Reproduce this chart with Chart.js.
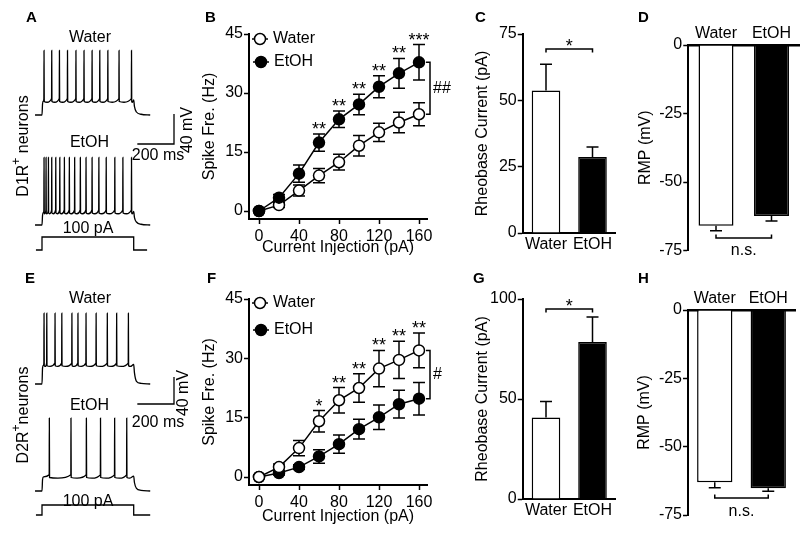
<!DOCTYPE html>
<html lang="en">
<head>
<meta charset="UTF-8">
<title>Firing of D1R+ and D2R+ neurons: Water vs EtOH</title>
<script src="https://cdn.jsdelivr.net/npm/chart.js"></script>
<style>
  body { margin: 0; background: #fff; }
  #fig { position: relative; width: 800px; height: 537px; overflow: hidden; }
  #fig canvas { position: absolute; left: 0; top: 0; }
</style>
</head>
<body>
<div id="fig">
  <canvas id="traceA" width="800" height="537"></canvas>
  <canvas id="chartB" width="800" height="537"></canvas>
  <canvas id="chartC" width="800" height="537"></canvas>
  <canvas id="chartD" width="800" height="537"></canvas>
  <canvas id="traceE" width="800" height="537"></canvas>
  <canvas id="chartF" width="800" height="537"></canvas>
  <canvas id="chartG" width="800" height="537"></canvas>
  <canvas id="chartH" width="800" height="537"></canvas>
</div>
<script>
// ---------- values ----------
const currents = [0, 20, 40, 60, 80, 100, 120, 140, 160];
const currentTicks = [0, 40, 80, 120, 160];
const spikeTicks = [0, 15, 30, 45];

const d1Water = [0, 1.5, 5.2, 9.0, 12.4, 16.6, 20.0, 22.5, 24.6];
const d1WaterErr = [0.3, 0.6, 1.4, 1.8, 2.0, 2.6, 2.3, 2.6, 2.9];
const d1Etoh = [0, 3.4, 9.5, 17.4, 23.3, 27.1, 31.6, 35.0, 37.8];
const d1EtohErr = [0.3, 0.8, 2.2, 2.2, 2.1, 2.6, 2.8, 3.8, 4.5];
const d1Stars = ['', '', '', '**', '**', '**', '**', '**', '***'];

const d2Water = [0, 2.5, 7.3, 14.1, 19.4, 22.5, 27.4, 29.6, 32.0];
const d2WaterErr = [0.3, 0.8, 1.9, 2.7, 3.2, 3.6, 4.6, 4.7, 4.4];
const d2Etoh = [0, 1.0, 2.5, 5.2, 8.3, 12.1, 15.1, 18.4, 19.8];
const d2EtohErr = [0.3, 0.5, 0.6, 1.7, 2.3, 2.5, 3.1, 3.5, 4.1];
const d2Stars = ['', '', '', '*', '**', '**', '**', '**', '**'];

const groups = ['Water', 'EtOH'];
const rheoD1 = [53.7, 28.6];
const rheoD1Err = [9.9, 3.8];
const rheoD1Ticks = [0, 25, 50, 75];
const rheoD2 = [40.7, 78.5];
const rheoD2Err = [8.0, 12.5];
const rheoD2Ticks = [0, 50, 100];
const rmpD1 = [-66.0, -62.4];
const rmpD1Err = [1.8, 1.8];
const rmpD2 = [-63.0, -65.2];
const rmpD2Err = [2.0, 1.1];
const rmpTicks = [0, -25, -50, -75];

// example traces: spike times in ms after step onset, levels [rest, plateau, peak] in mV
const d1WaterSpikes = [11, 53, 95, 139, 185, 229, 273, 315, 359, 420, 488];
const d1EtohSpikes = [11, 22, 35, 53, 75, 97, 122, 149, 178, 209, 240, 273, 310, 350, 397, 441, 488];
const d2WaterSpikes = [11, 26, 71, 108, 163, 196, 240, 295, 356, 407, 471];
const d2EtohSpikes = [40, 158, 242, 319, 396, 462];
const d1WaterLevels = [-80, -61, 6];
const d1EtohLevels = [-80, -63, 10];
const d2WaterLevels = [-80, -52, 25];
const d2EtohLevels = [-80, -59, 28];
const stepTimes = [0, 500];      // ms
const stepCurrent = [0, 100];    // pA
const scaleBar = [200, 40];      // ms, mV

// ---------- shared styling ----------
const FAMILY = '"Liberation Sans", Arial, Helvetica, sans-serif';
const FONT = { family: FAMILY, size: 16 };
const PAGE_W = 800, PAGE_H = 537;
Chart.defaults.font.family = FAMILY;
Chart.defaults.font.size = 16;
Chart.defaults.color = '#000';
Chart.defaults.animation = false;
Chart.defaults.events = [];
Chart.defaults.plugins.legend.display = false;
Chart.defaults.plugins.tooltip.enabled = false;

function rangeX(pxLo, pxHi, pxRef, valRef, ppu) {
  return { min: valRef - (pxRef - pxLo) / ppu, max: valRef + (pxHi - pxRef) / ppu };
}
function rangeY(pxTop, pxBottom, pxRef, valRef, ppu) {
  return { min: valRef - (pxBottom - pxRef) / ppu, max: valRef + (pxRef - pxTop) / ppu };
}
// layout padding that puts the plot area on a given page rectangle
function padFor(a, yW, xH, xTop) {
  return {
    left: a.l - yW,
    right: PAGE_W - a.r,
    top: xTop ? a.t - xH : a.t,
    bottom: xTop ? PAGE_H - a.b : PAGE_H - a.b - xH
  };
}

function yAxis(ticks, width, title, range) {
  return {
    type: 'linear', position: 'left', min: range.min, max: range.max,
    afterBuildTicks: s => { s.ticks = ticks.map(v => ({ value: v })); },
    afterFit: s => { s.width = width; },
    grid: { drawOnChartArea: false, tickLength: 5, tickWidth: 1.5, tickColor: '#000' },
    border: { color: '#000', width: 2 },
    ticks: { font: FONT, color: '#000', padding: 1 },
    title: { display: true, text: title, font: FONT, color: '#000', padding: 0 }
  };
}
function xLinear(ticks, height, title, range) {
  return {
    type: 'linear', position: 'bottom', min: range.min, max: range.max,
    afterBuildTicks: s => { s.ticks = ticks.map(v => ({ value: v })); },
    afterFit: s => { s.height = height; },
    grid: { drawOnChartArea: false, tickLength: 5, tickWidth: 1.5, tickColor: '#000' },
    border: { color: '#000', width: 2 },
    ticks: { font: FONT, color: '#000', padding: 3, maxRotation: 0, autoSkip: false },
    title: { display: true, text: title, font: FONT, color: '#000', padding: 0 }
  };
}
function xCat(height, position, padding) {
  return {
    type: 'category', position: position, offset: true,
    afterFit: s => { s.height = height; },
    grid: { display: false, drawTicks: false, tickLength: 0 },
    border: { color: '#000', width: position === 'top' ? 2.5 : 2 },
    ticks: { font: FONT, color: '#000', padding: padding, maxRotation: 0, autoSkip: false }
  };
}
function lineSet(label, vals, filled) {
  return {
    label: label,
    data: currents.map((c, i) => ({ x: c, y: vals[i] })),
    borderColor: '#000', borderWidth: 1.5,
    pointRadius: 5.5, pointBorderWidth: 1.5, pointBorderColor: '#000',
    pointBackgroundColor: filled ? '#000' : '#fff',
    tension: 0
  };
}
function barSet(vals, pct) {
  return {
    data: vals,
    backgroundColor: ['#fff', '#000'],
    borderColor: '#000', borderWidth: 1.5,
    barPercentage: pct, categoryPercentage: 1
  };
}

function valueOf(d) { return typeof d === 'object' ? d.y : d; }

function drawErrors(chart, o) {
  const ctx = chart.ctx, ys = chart.scales.y;
  ctx.save();
  ctx.strokeStyle = '#000';
  ctx.lineWidth = 1.5;
  o.errors.forEach((errs, di) => {
    const meta = chart.getDatasetMeta(di);
    const vals = chart.data.datasets[di].data;
    meta.data.forEach((el, i) => {
      const v = valueOf(vals[i]), e = errs[i];
      if (!e) return;
      const ends = o.oneSided ? [v + (v < 0 ? -e : e)] : [v + e, v - e];
      const y0 = ys.getPixelForValue(v);
      ends.forEach(end => {
        const y1 = ys.getPixelForValue(end);
        ctx.beginPath();
        ctx.moveTo(el.x, y0); ctx.lineTo(el.x, y1);
        ctx.moveTo(el.x - o.cap, y1); ctx.lineTo(el.x + o.cap, y1);
        ctx.stroke();
      });
    });
  });
  ctx.restore();
}

function drawText(ctx, t) {
  ctx.save();
  ctx.font = t.font || ('16px ' + FAMILY);
  ctx.textAlign = t.align || 'center';
  ctx.textBaseline = t.baseline || 'alphabetic';
  ctx.translate(t.x, t.y);
  if (t.rot) ctx.rotate(t.rot);
  if (t.sup) {
    // main text, raised superscript, rest of text
    const f2 = '12px ' + FAMILY;
    const w1 = ctx.measureText(t.text).width;
    const w3 = ctx.measureText(t.after).width;
    ctx.font = f2;
    const w2 = ctx.measureText(t.sup).width;
    let x = -(w1 + w2 + w3) / 2;
    ctx.textAlign = 'left';
    ctx.font = t.font || ('16px ' + FAMILY);
    ctx.fillText(t.text, x, 0); x += w1;
    ctx.font = f2;
    ctx.fillText(t.sup, x, -8); x += w2;
    ctx.font = t.font || ('16px ' + FAMILY);
    ctx.fillText(t.after, x, 0);
  } else {
    ctx.fillText(t.text, 0, 0);
  }
  ctx.restore();
}

const extras = {
  id: 'extras',
  beforeDatasetsDraw(chart, args, o) {
    if (o.errors && o.behind) drawErrors(chart, o);
  },
  afterDatasetsDraw(chart, args, o) {
    if (o.errors && !o.behind) drawErrors(chart, o);
  },
  afterDraw(chart, args, o) {
    const ctx = chart.ctx;
    ctx.save();
    ctx.fillStyle = '#000';
    ctx.strokeStyle = '#000';
    ctx.lineWidth = 1.5;
    if (o.letter) {
      drawText(ctx, { text: o.letter[0], x: o.letter[1], y: o.letter[2], align: 'left', font: 'bold 15px ' + FAMILY });
    }
    (o.texts || []).forEach(t => drawText(ctx, t));
    const ys = chart.scales.y;
    if (o.stars) {
      o.stars.forEach((s, i) => {
        if (!s) return;
        let top = Infinity;
        o.errors.forEach((errs, di) => {
          const v = valueOf(chart.data.datasets[di].data[i]);
          top = Math.min(top, ys.getPixelForValue(v + errs[i]));
        });
        const x = chart.getDatasetMeta(0).data[i].x;
        drawText(ctx, { text: s, x: x, y: top + 1, font: '18px ' + FAMILY });
      });
    }
    if (o.vbracket) {
      const b = o.vbracket;
      const p0 = chart.getDatasetMeta(b.sets[0]).data[b.index];
      const p1 = chart.getDatasetMeta(b.sets[1]).data[b.index];
      const x = p0.x + b.dx;
      ctx.beginPath();
      ctx.moveTo(x - b.tick, p0.y); ctx.lineTo(x, p0.y);
      ctx.lineTo(x, p1.y); ctx.lineTo(x - b.tick, p1.y);
      ctx.stroke();
      drawText(ctx, { text: b.text, x: x + 3, y: (p0.y + p1.y) / 2, align: 'left', baseline: 'middle' });
    }
    if (o.hbracket) {
      const b = o.hbracket;
      const els = chart.getDatasetMeta(0).data;
      const y = ys.getPixelForValue(b.value);
      const x0 = els[0].x, x1 = els[1].x;
      ctx.beginPath();
      ctx.moveTo(x0, y + b.tick); ctx.lineTo(x0, y);
      ctx.lineTo(x1, y); ctx.lineTo(x1, y + b.tick);
      ctx.stroke();
      drawText(ctx, { text: b.text, x: (x0 + x1) / 2, y: y + b.textDy, font: b.font });
    }
    if (o.legend) {
      const a = chart.chartArea;
      o.legend.forEach(it => {
        const x = a.left + it.dx, y = a.top + it.dy;
        ctx.beginPath();
        ctx.moveTo(x - 8, y); ctx.lineTo(x + 8, y);
        ctx.stroke();
        ctx.beginPath();
        ctx.arc(x, y, 5.5, 0, Math.PI * 2);
        ctx.fillStyle = it.filled ? '#000' : '#fff';
        ctx.fill();
        ctx.stroke();
        ctx.fillStyle = '#000';
        drawText(ctx, { text: it.label, x: x + 13, y: y, align: 'left', baseline: 'middle' });
      });
    }
    ctx.restore();
  }
};

// ---------- frequency-current curves ----------
function fiChart(id, area, xTitleH, zeroPx, sets, errs, stars, bracketText, legendDy, letter) {
  const ppu = (zeroPx - area.t) / 45;
  new Chart(document.getElementById(id), {
    type: 'line',
    data: { datasets: sets },
    options: {
      responsive: false,
      layout: { padding: padFor(area, 48.6, xTitleH) },
      scales: {
        x: xLinear(currentTicks, xTitleH, 'Current Injection (pA)', rangeX(area.l, area.r, 259, 0, 1)),
        y: yAxis(spikeTicks, 48.6, 'Spike Fre. (Hz)', rangeY(area.t, area.b, zeroPx, 0, ppu))
      },
      plugins: {
        extras: {
          letter: letter,
          errors: errs, behind: true, cap: 6,
          stars: stars,
          vbracket: { index: 8, sets: [0, 1], dx: 11, tick: 4, text: bracketText },
          legend: [
            { label: 'Water', filled: false, dx: 11, dy: legendDy[0] },
            { label: 'EtOH', filled: true, dx: 12, dy: legendDy[1] }
          ]
        }
      }
    },
    plugins: [extras]
  });
}

fiChart('chartB', { l: 249, t: 34, r: 427, b: 219 }, 38.6, 211,
  [lineSet('EtOH', d1Etoh, true), lineSet('Water', d1Water, false)],
  [d1EtohErr, d1WaterErr], d1Stars, '##', [5, 28], ['B', 205, 21.7]);

fiChart('chartF', { l: 249, t: 299, r: 427, b: 485 }, 41.6, 477,
  [lineSet('Water', d2Water, false), lineSet('EtOH', d2Etoh, true)],
  [d2WaterErr, d2EtohErr], d2Stars, '#', [4, 31], ['F', 207, 283]);

// ---------- rheobase bars ----------
function rheoChart(id, area, vals, errs, ticks, bracketValue, letter) {
  new Chart(document.getElementById(id), {
    type: 'bar',
    data: { labels: groups, datasets: [barSet(vals, 0.615)] },
    options: {
      responsive: false,
      layout: { padding: padFor(area, 49.6, 30) },
      scales: {
        x: xCat(30, 'bottom', 2),
        y: yAxis(ticks, 49.6, 'Rheobase Current (pA)', { min: 0, max: ticks[ticks.length - 1] })
      },
      plugins: {
        extras: {
          letter: letter,
          errors: [errs], oneSided: true, cap: 6,
          hbracket: { value: bracketValue, tick: 3.5, text: '*', textDy: 3, font: '18px ' + FAMILY }
        }
      }
    },
    plugins: [extras]
  });
}
rheoChart('chartC', { l: 522.75, t: 34, r: 615.75, b: 233 }, rheoD1, rheoD1Err, rheoD1Ticks, 69.3, ['C', 475, 21.7]);
rheoChart('chartG', { l: 522.75, t: 299, r: 615.75, b: 499 }, rheoD2, rheoD2Err, rheoD2Ticks, 95, ['G', 473, 283]);

// ---------- resting membrane potential bars ----------
function rmpChart(id, area, vals, errs, pct, bracketValue, letter) {
  new Chart(document.getElementById(id), {
    type: 'bar',
    data: { labels: groups, datasets: [barSet(vals, pct)] },
    options: {
      responsive: false,
      layout: { padding: padFor(area, 52.6, 28, true) },
      scales: {
        x: xCat(28, 'top', 2),
        y: yAxis(rmpTicks, 52.6, 'RMP (mV)', { min: -75, max: 0 })
      },
      plugins: {
        extras: {
          letter: letter,
          errors: [errs], oneSided: true, cap: 6,
          hbracket: { value: bracketValue, tick: -3.5, text: 'n.s.', textDy: 17.5 }
        }
      }
    },
    plugins: [extras]
  });
}
rmpChart('chartD', { l: 688.25, t: 45, r: 799.25, b: 250.5 }, rmpD1, rmpD1Err, 0.63, -70.4, ['D', 638, 21.7]);
rmpChart('chartH', { l: 688, t: 310, r: 795, b: 515 }, rmpD2, rmpD2Err, 0.66, -68.8, ['H', 638, 283]);

// ---------- example voltage traces ----------
function buildTrace(spikes, levels) {
  const rest = levels[0], plat = levels[1], peak = levels[2];
  const off = stepTimes[1];
  const pts = [{ x: -38, y: rest }, { x: stepTimes[0], y: rest }, { x: 3, y: plat - 4 }, { x: 8, y: plat }];
  spikes.forEach((t, i) => {
    const next = i + 1 < spikes.length ? spikes[i + 1] : off;
    pts.push({ x: t - 0.8, y: plat + 3 }, { x: t, y: peak }, { x: t + 1.2, y: plat - 1 });
    pts.push({ x: t + (next - t) * 0.4, y: plat - 2 });
  });
  pts.push({ x: off, y: plat + 1 }, { x: off + 4, y: plat - (plat - rest) * 0.4 },
    { x: off + 15, y: rest + 4 }, { x: off + 40, y: rest + 1 }, { x: off + 90, y: rest });
  return pts;
}
function stimTrace(t0, t1) {
  return [
    { x: t0, y: stepCurrent[0] }, { x: stepTimes[0], y: stepCurrent[0] },
    { x: stepTimes[0], y: stepCurrent[1] }, { x: stepTimes[1], y: stepCurrent[1] },
    { x: stepTimes[1], y: stepCurrent[0] }, { x: t1, y: stepCurrent[0] }
  ];
}

function traceChart(id, p) {
  const area = p.area;
  const pxPerMs = 91.7 / (stepTimes[1] - stepTimes[0]);
  const xr = rangeX(area.l, area.r, 42, 0, pxPerMs);
  const wr = rangeY(area.t, area.b, p.waterRestPx, p.water[1][0], p.mvPx);
  const er = rangeY(area.t, area.b, p.etohRestPx, p.etoh[1][0], p.mvPx);
  const sr = rangeY(area.t, area.b, p.stimZeroPx, 0, p.stimPx / stepCurrent[1]);
  // scale bar corner placed at a page position, sized in data units
  const cornerT = (p.barCorner[0] - 42) / pxPerMs;
  const cornerV = p.water[1][0] - (p.barCorner[1] - p.waterRestPx) / p.mvPx;
  const line = { borderColor: '#000', borderWidth: 1.3, pointRadius: 0, fill: false };
  const hidden = r => ({ type: 'linear', display: false, min: r.min, max: r.max });
  new Chart(document.getElementById(id), {
    type: 'line',
    data: {
      datasets: [
        Object.assign({ data: buildTrace(p.water[0], p.water[1]), yAxisID: 'yW', cubicInterpolationMode: 'monotone' }, line),
        Object.assign({ data: buildTrace(p.etoh[0], p.etoh[1]), yAxisID: 'yE', cubicInterpolationMode: 'monotone' }, line),
        Object.assign({ data: stimTrace(-33, p.stimEnd), yAxisID: 'yS', tension: 0 }, line),
        Object.assign({ data: [
          { x: cornerT - scaleBar[0], y: cornerV }, { x: cornerT, y: cornerV }, { x: cornerT, y: cornerV + scaleBar[1] }
        ], yAxisID: 'yW', tension: 0 }, line)
      ]
    },
    options: {
      responsive: false,
      layout: { padding: { left: area.l, right: PAGE_W - area.r, top: area.t, bottom: PAGE_H - area.b } },
      scales: { x: hidden(xr), yW: hidden(wr), yE: hidden(er), yS: hidden(sr) },
      plugins: { extras: { letter: p.letter, texts: p.texts } }
    },
    plugins: [extras]
  });
}

traceChart('traceA', {
  area: { l: 30, t: 40, r: 200, b: 262 },
  water: [d1WaterSpikes, d1WaterLevels], etoh: [d1EtohSpikes, d1EtohLevels],
  waterRestPx: 115, etohRestPx: 225, mvPx: 0.75,
  stimZeroPx: 250, stimPx: 13, stimEnd: 573,
  barCorner: [174, 144],
  letter: ['A', 26, 21.7],
  texts: [
    { text: 'Water', x: 90, y: 42 },
    { text: 'EtOH', x: 89.5, y: 146.5 },
    { text: '100 pA', x: 88, y: 233 },
    { text: '200 ms', x: 158, y: 160 },
    { text: '40 mV', x: 192, y: 130, rot: -Math.PI / 2 },
    { text: 'D1R', sup: '+', after: ' neurons', x: 28, y: 146, rot: -Math.PI / 2 }
  ]
});
traceChart('traceE', {
  area: { l: 30, t: 300, r: 200, b: 530 },
  water: [d2WaterSpikes, d2WaterLevels], etoh: [d2EtohSpikes, d2EtohLevels],
  waterRestPx: 384, etohRestPx: 491, mvPx: 0.675,
  stimZeroPx: 515, stimPx: 10, stimEnd: 590,
  barCorner: [174, 404],
  letter: ['E', 25, 283],
  texts: [
    { text: 'Water', x: 90, y: 303 },
    { text: 'EtOH', x: 89.5, y: 410 },
    { text: '100 pA', x: 88, y: 506 },
    { text: '200 ms', x: 158, y: 427 },
    { text: '40 mV', x: 188, y: 393, rot: -Math.PI / 2 },
    { text: 'D2R', sup: '+', after: 'neurons', x: 28, y: 415, rot: -Math.PI / 2 }
  ]
});
</script>
</body>
</html>
